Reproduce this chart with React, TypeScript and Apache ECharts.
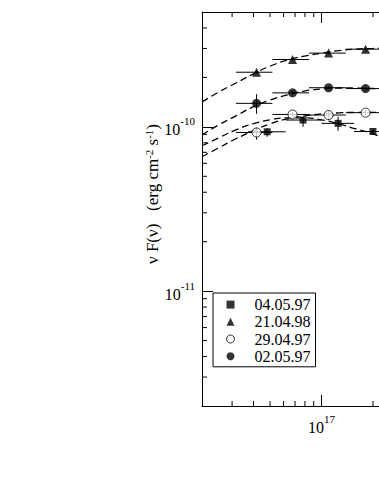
import React, { useEffect, useRef } from 'react';
import * as echarts from 'echarts';

const FONT = '"Liberation Serif", "Times New Roman", serif';

// axis ranges
const XMIN = 2e16;
const XMAX = 1e18;
const YMIN = 2e-12;
const YMAX = 5e-10;

// minor tick positions
const xMinorTicks = [3e16, 4e16, 5e16, 6e16, 7e16, 8e16, 9e16, 2e17, 3e17, 4e17, 5e17, 6e17, 7e17, 8e17, 9e17];
const yMinorTicks = [3e-12, 4e-12, 5e-12, 6e-12, 7e-12, 8e-12, 9e-12, 2e-11, 3e-11, 4e-11, 5e-11, 6e-11, 7e-11, 8e-11, 9e-11, 2e-10, 3e-10, 4e-10];

// legend names
const names = ['04.05.97', '21.04.98', '29.04.97', '02.05.97'];

// data points (frequency, nuF_nu)
const binX = [4.17e16, 6.77e16, 1.10e17, 1.81e17];
const binLo = [3.16e16, 5.16e16, 8.45e16, 1.387e17];
const binHi = [5.16e16, 8.45e16, 1.387e17, 2.275e17];

const sqX = [4.81e16, 7.8e16, 1.25e17, 2.0e17];
const sqLo = [3.72e16, 6.17e16, 1.0e17, 1.55e17];
const sqHi = [6.17e16, 1.0e17, 1.55e17, 2.57e17];
const sqY = [9.33e-11, 1.10e-10, 1.05e-10, 9.37e-11];
const sqYLo = [8.7e-11, 1.0e-10, 9.46e-11, 9.0e-11];
const sqYHi = [9.82e-11, 1.15e-10, 1.15e-10, 9.8e-11];

const triY = [2.15e-10, 2.57e-10, 2.81e-10, 2.97e-10];
const triYLo = [2.10e-10, 2.52e-10, 2.76e-10, 2.92e-10];
const triYHi = [2.20e-10, 2.62e-10, 2.86e-10, 3.02e-10];

const openY = [9.24e-11, 1.19e-10, 1.18e-10, 1.22e-10];
const openYLo = [8.35e-11, 1.15e-10, 1.10e-10, 1.18e-10];
const openYHi = [9.9e-11, 1.23e-10, 1.26e-10, 1.26e-10];

const filledY = [1.39e-10, 1.61e-10, 1.73e-10, 1.71e-10];
const filledYLo = [1.20e-10, 1.57e-10, 1.69e-10, 1.67e-10];
const filledYHi = [1.58e-10, 1.65e-10, 1.77e-10, 1.75e-10];

// fitted model curves (dashed)
const curveX = [2.0e16, 2.51e16, 3.16e16, 3.98e16, 5.01e16, 6.31e16, 7.94e16, 1.0e17, 1.26e17, 1.585e17, 2.0e17, 2.24e17];
const sqCurve = [7.67e-11, 8.58e-11, 9.59e-11, 1.043e-10, 1.103e-10, 1.134e-10, 1.134e-10, 1.103e-10, 1.043e-10, 9.72e-11, 9.07e-11, 8.6e-11];
const triCurve = [1.418e-10, 1.63e-10, 1.848e-10, 2.095e-10, 2.343e-10, 2.547e-10, 2.694e-10, 2.809e-10, 2.909e-10, 2.97e-10, 3.0e-10, 3.01e-10];
const openCurve = [6.58e-11, 7.46e-11, 8.46e-11, 9.46e-11, 1.043e-10, 1.118e-10, 1.166e-10, 1.199e-10, 1.216e-10, 1.225e-10, 1.225e-10, 1.22e-10];
const filledCurve = [8.94e-11, 1.028e-10, 1.166e-10, 1.322e-10, 1.458e-10, 1.563e-10, 1.652e-10, 1.70e-10, 1.723e-10, 1.723e-10, 1.711e-10, 1.70e-10];

const zip = (...arrs: number[][]) => arrs[0].map((_, i) => arrs.map((a) => a[i]));

const powLabel = (v: number) => {
  const l = Math.log10(v);
  const e = Math.round(l);
  if (Math.abs(l - e) > 1e-6) return '';
  return `{b|10}{s|${e}}`;
};

const richLabel = {
  b: { fontFamily: FONT, fontSize: 16, color: '#000', padding: [6, 0, 0, 0] },
  s: { fontFamily: FONT, fontSize: 11, color: '#000', verticalAlign: 'top' },
};

const axisLineStyle = { color: '#000', width: 1 };

const errorRender = (params: any, api: any) => {
  const x = api.value(0);
  const y = api.value(1);
  const a = api.coord([api.value(2), y]);
  const b = api.coord([api.value(3), y]);
  const c = api.coord([x, api.value(4)]);
  const d = api.coord([x, api.value(5)]);
  return {
    type: 'group',
    children: [
      { type: 'line', shape: { x1: a[0], y1: a[1], x2: b[0], y2: b[1] }, style: { stroke: '#000', lineWidth: 1 } },
      { type: 'line', shape: { x1: c[0], y1: c[1], x2: d[0], y2: d[1] }, style: { stroke: '#000', lineWidth: 1 } },
    ],
  };
};

const tickRender = (params: any, api: any) => {
  const flag = api.value(2);
  const st = { stroke: '#000', lineWidth: 1 };
  if (flag === 0) {
    const v = api.value(0);
    const p = api.coord([v, YMIN]);
    const q = api.coord([v, YMAX]);
    return {
      type: 'group',
      children: [
        { type: 'line', shape: { x1: p[0], y1: p[1], x2: p[0], y2: p[1] - 5 }, style: st },
        { type: 'line', shape: { x1: q[0], y1: q[1], x2: q[0], y2: q[1] + 5 }, style: st },
      ],
    };
  }
  const v = api.value(1);
  const p = api.coord([XMIN, v]);
  return { type: 'line', shape: { x1: p[0], y1: p[1], x2: p[0] + 5, y2: p[1] }, style: st };
};

const tickData = [
  ...xMinorTicks.map((v) => [v, YMIN, 0]),
  ...yMinorTicks.map((v) => [XMIN, v, 1]),
];

const dashStyle = { color: '#000', width: 1.3, type: [7, 4] as number[] };

const curveSeries = (data: number[]) => ({
  type: 'line',
  data: zip(curveX, data),
  showSymbol: false,
  symbol: 'none',
  smooth: true,
  lineStyle: dashStyle,
  silent: true,
  z: 2,
});

const errSeries = (d: number[][]) => ({
  type: 'custom',
  renderItem: errorRender,
  data: d,
  encode: { x: 0, y: 1 },
  silent: true,
  z: 3,
});

const option: any = {
  animation: false,
  backgroundColor: '#fff',
  grid: { left: 202, top: 12, width: 290.5, height: 394 },
  xAxis: [
    {
      type: 'log',
      logBase: 10,
      min: XMIN,
      max: XMAX,
      axisLine: { lineStyle: axisLineStyle },
      axisTick: { inside: true, length: 11, lineStyle: axisLineStyle },
      splitLine: { show: false },
      axisLabel: { formatter: powLabel, rich: richLabel, margin: 7, color: '#000', showMaxLabel: false },
    },
    {
      type: 'log',
      logBase: 10,
      min: XMIN,
      max: XMAX,
      position: 'top',
      axisLine: { lineStyle: axisLineStyle },
      axisTick: { inside: true, length: 11, lineStyle: axisLineStyle },
      splitLine: { show: false },
      axisLabel: { show: false },
    },
  ],
  yAxis: {
    type: 'log',
    logBase: 10,
    min: YMIN,
    max: YMAX,
    axisLine: { lineStyle: axisLineStyle },
    axisTick: { inside: true, length: 11, lineStyle: axisLineStyle },
    splitLine: { show: false },
    axisLabel: { formatter: powLabel, rich: richLabel, margin: 7, color: '#000' },
  },
  legend: {
    left: 213,
    top: 293,
    orient: 'vertical',
    padding: [3, 5, 2, 13],
    borderColor: '#000',
    borderWidth: 1,
    borderRadius: 0,
    backgroundColor: '#fff',
    itemWidth: 8,
    itemHeight: 8,
    itemGap: 0,
    selectedMode: false,
    textStyle: { fontFamily: FONT, fontSize: 16, color: '#000', lineHeight: 17.2, padding: [0, 0, 0, 15] },
    data: [
      { name: names[0], icon: 'rect', itemStyle: { color: '#000' } },
      { name: names[1], icon: 'triangle', itemStyle: { color: '#000' } },
      { name: names[2], icon: 'circle', itemStyle: { color: '#fff', borderColor: '#000', borderWidth: 1 } },
      { name: names[3], icon: 'circle', itemStyle: { color: '#000' } },
    ],
  },
  graphic: [
    {
      type: 'text',
      x: 152,
      y: 194,
      rotation: Math.PI / 2,
      silent: true,
      style: {
        text: 'ν F(ν)   (erg cm{s|-2} s{s|-1})',
        fontFamily: FONT,
        fontSize: 17,
        fill: '#000',
        align: 'center',
        verticalAlign: 'middle',
        rich: { s: { fontFamily: FONT, fontSize: 11, fill: '#000', verticalAlign: 'top' } },
      },
    },
  ],
  series: [
    { type: 'custom', renderItem: tickRender, data: tickData, encode: { x: 0, y: 1 }, silent: true, z: 1 },
    curveSeries(sqCurve),
    curveSeries(triCurve),
    curveSeries(openCurve),
    curveSeries(filledCurve),
    errSeries(zip(sqX, sqY, sqLo, sqHi, sqYLo, sqYHi)),
    errSeries(zip(binX, triY, binLo, binHi, triYLo, triYHi)),
    errSeries(zip(binX, openY, binLo, binHi, openYLo, openYHi)),
    errSeries(zip(binX, filledY, binLo, binHi, filledYLo, filledYHi)),
    { name: names[0], type: 'scatter', data: zip(sqX, sqY), symbol: 'rect', symbolSize: 7, itemStyle: { color: '#000' }, z: 4 },
    { name: names[1], type: 'scatter', data: zip(binX, triY), symbol: 'triangle', symbolSize: 9, itemStyle: { color: '#000' }, z: 4 },
    { name: names[2], type: 'scatter', data: zip(binX, openY), symbol: 'circle', symbolSize: 9, itemStyle: { color: '#fff', borderColor: '#000', borderWidth: 1 }, z: 4 },
    { name: names[3], type: 'scatter', data: zip(binX, filledY), symbol: 'circle', symbolSize: 9, itemStyle: { color: '#000' }, z: 4 },
  ],
};

export default function App() {
  const ref = useRef<HTMLDivElement>(null);
  useEffect(() => {
    const chart = echarts.init(ref.current!, null, { renderer: 'svg' });
    chart.setOption(option);
    return () => chart.dispose();
  }, []);
  return (
    <div style={{ position: 'fixed', left: 0, top: 0, width: 379, height: 491, overflow: 'hidden', background: '#fff' }}>
      <div ref={ref} style={{ width: 520, height: 491 }} />
    </div>
  );
}
